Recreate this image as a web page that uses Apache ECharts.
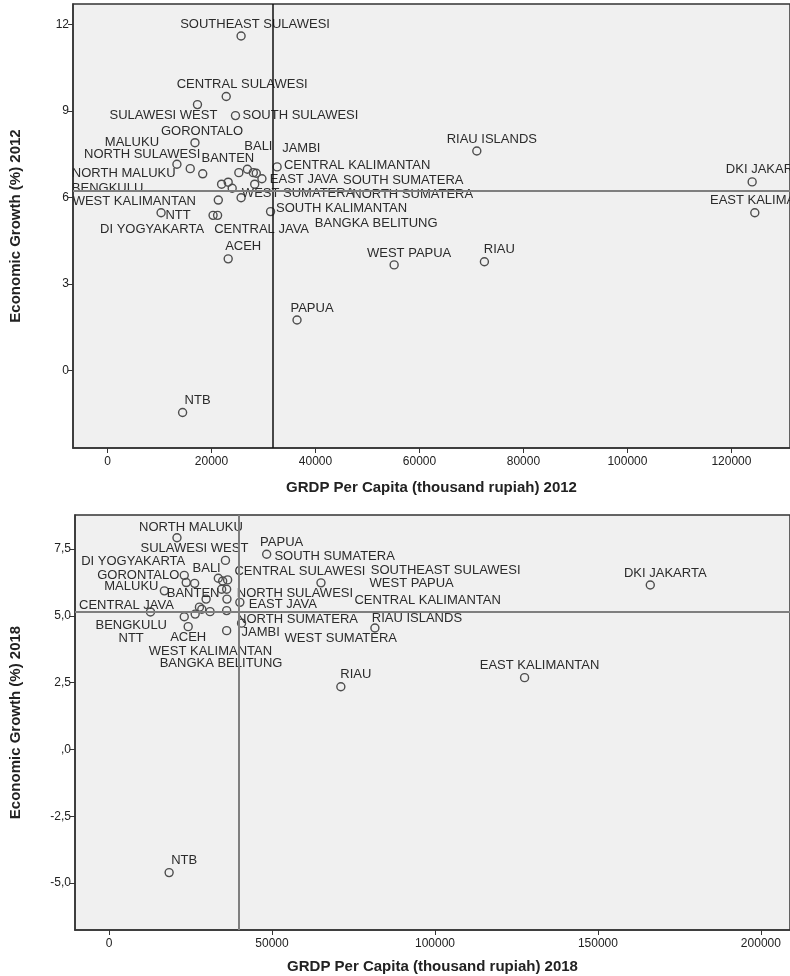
<!DOCTYPE html>
<html>
<head>
<meta charset="utf-8">
<script src="https://cdn.jsdelivr.net/npm/echarts@6/dist/echarts.min.js"></script>
<style>
  html, body { margin: 0; padding: 0; background: #fff; }
  #main { width: 790px; height: 976px; }
</style>
</head>
<body>
<div id="main"></div>
<script>
  // 2012
  var names2012 = ['SOUTHEAST SULAWESI', 'CENTRAL SULAWESI', 'SULAWESI WEST', 'SOUTH SULAWESI', 'GORONTALO',
    'MALUKU', 'NORTH SULAWESI', 'NORTH MALUKU', 'BANTEN', 'BALI', 'JAMBI', 'SOUTH SUMATERA', 'EAST JAVA',
    'CENTRAL KALIMANTAN', 'NORTH SUMATERA', 'BENGKULU', 'WEST JAVA', 'BANGKA BELITUNG', 'WEST SUMATERA',
    'WEST KALIMANTAN', 'NTT', 'DI YOGYAKARTA', 'CENTRAL JAVA', 'SOUTH KALIMANTAN', 'ACEH', 'RIAU ISLANDS',
    'DKI JAKARTA', 'EAST KALIMANTAN', 'WEST PAPUA', 'RIAU', 'PAPUA', 'NTB'];
  var grdp2012 = [25690, 22830, 17300, 24610, 16820, 13350, 15910, 18310, 25260, 26900, 28040, 28610, 29700,
    32620, 28310, 21940, 23210, 23980, 25690, 21310, 10300, 20300, 21170, 31360, 23210, 71030,
    123990, 124500, 55130, 72490, 36450, 14440];
  var growth2012 = [11.60, 9.50, 9.22, 8.84, 7.90, 7.15, 7.00, 6.82, 6.86, 6.98, 6.86, 6.84, 6.65,
    7.06, 6.46, 6.46, 6.53, 6.32, 5.99, 5.91, 5.47, 5.38, 5.38, 5.51, 3.87, 7.61,
    6.54, 5.47, 3.66, 3.77, 1.75, -1.46];
  var mean2012 = [31810, 6.23];

  // 2018
  var names2018 = ['NORTH MALUKU', 'SULAWESI WEST', 'PAPUA', 'GORONTALO', 'DI YOGYAKARTA', 'BALI', 'WEST JAVA',
    'SOUTHEAST SULAWESI', 'SOUTH SUMATERA', 'LAMPUNG', 'WEST PAPUA', 'MALUKU', 'BANTEN', 'NORTH SULAWESI',
    'WEST KALIMANTAN', 'WEST SUMATERA', 'BANGKA BELITUNG', 'CENTRAL KALIMANTAN', 'CENTRAL JAVA', 'BENGKULU',
    'NTT', 'ACEH', 'EAST JAVA', 'NORTH SUMATERA', 'JAMBI', 'RIAU ISLANDS', 'CENTRAL SULAWESI', 'RIAU',
    'EAST KALIMANTAN', 'DKI JAKARTA', 'NTB'];
  var grdp2018 = [20840, 35710, 48360, 23070, 23680, 26260, 33520, 34860, 36380, 34550, 36080, 16970, 29770, 36170,
    27730, 28460, 30990, 36080, 12710, 23070, 26420, 24280, 40130, 40650, 36080, 81570, 65020, 71120,
    127490, 166060, 18430];
  var growth2018 = [7.93, 7.08, 7.31, 6.52, 6.25, 6.22, 6.41, 6.31, 6.35, 6.00, 6.00, 5.94, 5.63, 5.63,
    5.33, 5.25, 5.16, 5.20, 5.15, 4.97, 5.07, 4.60, 5.51, 4.73, 4.45, 4.55, 6.24, 2.35,
    2.69, 6.16, -4.61];
  var mean2018 = [39760, 5.15];

  var hiddenLabels = ['WEST JAVA', 'LAMPUNG'];

  // label centre relative to the point, px
  var labelOffset2012 = {
    'SOUTHEAST SULAWESI': [14, -12], 'CENTRAL SULAWESI': [16, -12], 'SULAWESI WEST': [-34, 11],
    'SOUTH SULAWESI': [65, 0], 'GORONTALO': [7, -11], 'MALUKU': [-45, -22], 'NORTH SULAWESI': [-48, -14],
    'NORTH MALUKU': [-79, 0], 'BANTEN': [-11, -14], 'BALI': [11, -23], 'JAMBI': [48, -24],
    'SOUTH SUMATERA': [147, 7], 'EAST JAVA': [42, 1], 'CENTRAL KALIMANTAN': [80, -1],
    'NORTH SUMATERA': [158, 10], 'BENGKULU': [-114, 4], 'BANGKA BELITUNG': [144, 35],
    'WEST SUMATERA': [57, -4], 'WEST KALIMANTAN': [-84, 1], 'NTT': [17, 3], 'DI YOGYAKARTA': [-61, 14],
    'CENTRAL JAVA': [44, 14], 'SOUTH KALIMANTAN': [71, -3]
  };
  var labelOffset2018 = {
    'NORTH MALUKU': [14, -10], 'SULAWESI WEST': [-31, -12], 'SOUTH SUMATERA': [107, -23],
    'DI YOGYAKARTA': [-53, -21], 'BALI': [12, -15], 'CENTRAL SULAWESI': [-21, -11],
    'SOUTHEAST SULAWESI': [223, -11], 'WEST PAPUA': [185, -6], 'GORONTALO': [-46, 0], 'MALUKU': [-33, -4],
    'BANTEN': [-13, -6], 'NORTH SULAWESI': [68, -6], 'CENTRAL KALIMANTAN': [201, -10], 'CENTRAL JAVA': [-24, -7],
    'EAST JAVA': [43, 2], 'NORTH SUMATERA': [56, -4], 'RIAU ISLANDS': [42, -10], 'BENGKULU': [-53, 9],
    'JAMBI': [34, 2], 'WEST SUMATERA': [139, 29], 'NTT': [-64, 24], 'ACEH': [0, 11],
    'WEST KALIMANTAN': [11, 44], 'BANGKA BELITUNG': [11, 52]
  };

  var fontName = '"Liberation Sans", Arial, sans-serif';

  function points(names, xs, ys, offsets) {
    return names.map(function(n, i) {
      var off = offsets[n] || [15, -12];
      return {
        name: n,
        value: [xs[i], ys[i]],
        label: { show: hiddenLabels.indexOf(n) < 0, offset: off }
      };
    });
  }

  function scatter(idx, data, mean, vColor, vWidth) {
    return {
      type: 'scatter',
      xAxisIndex: idx,
      yAxisIndex: idx,
      symbol: 'circle',
      symbolSize: 8,
      itemStyle: { color: 'rgba(0,0,0,0)', borderColor: '#4d4d4d', borderWidth: 1.4, opacity: 1 },
      label: {
        position: 'inside',
        formatter: '{b}',
        fontFamily: fontName,
        fontSize: 13,
        color: '#2b2b2b'
      },
      emphasis: { disabled: true },
      data: data,
      markLine: {
        silent: true,
        symbol: 'none',
        label: { show: false },
        animation: false,
        data: [
          { xAxis: mean[0], lineStyle: { color: vColor, width: vWidth, type: 'solid' } },
          { yAxis: mean[1], lineStyle: { color: '#7f7f7f', width: 2, type: 'solid' } }
        ]
      }
    };
  }

  var axisCommon = {
    type: 'value',
    splitLine: { show: false },
    axisLine: { show: true, onZero: false, lineStyle: { color: '#333', width: 1.5 } },
    axisTick: { show: true, length: 5, lineStyle: { color: '#333' } },
    axisLabel: { fontFamily: fontName, fontSize: 12, color: '#222', margin: 4 },
    nameLocation: 'middle',
    nameTextStyle: { fontFamily: fontName, fontSize: 15, fontWeight: 'bold', color: '#222' }
  };

  function axis(extra) {
    var a = JSON.parse(JSON.stringify(axisCommon));
    for (var k in extra) {
      if (k === 'axisLabel' || k === 'axisTick') {
        for (var j in extra[k]) a[k][j] = extra[k][j];
      } else {
        a[k] = extra[k];
      }
    }
    return a;
  }

  function plain(v) { return String(v); }

  var xTicks2012 = [0, 20000, 40000, 60000, 80000, 100000, 120000];
  var yTicks2012 = [0, 3, 6, 9, 12];
  var xTicks2018 = [0, 50000, 100000, 150000, 200000];
  var yTicks2018 = [-5, -2.5, 0, 2.5, 5, 7.5];

  var chart = echarts.init(document.getElementById('main'));
  chart.setOption({
    backgroundColor: '#fff',
    animation: false,
    grid: [
      { left: 69, top: 4, width: 723, height: 444, show: true, backgroundColor: '#f0f0f0', borderColor: '#333', borderWidth: 1.5 },
      { left: 74, top: 515, width: 720, height: 415, show: true, backgroundColor: '#f0f0f0', borderColor: '#333', borderWidth: 1.5 }
    ],
    xAxis: [
      axis({ gridIndex: 0, min: -6640, max: 131270, name: 'GRDP Per Capita (thousand rupiah) 2012', nameGap: 32,
        axisLabel: { customValues: xTicks2012, margin: 8, formatter: plain }, axisTick: { customValues: xTicks2012 } }),
      axis({ gridIndex: 1, min: -10450, max: 208930, name: 'GRDP Per Capita (thousand rupiah) 2018', nameGap: 29,
        axisLabel: { customValues: xTicks2018, margin: 8, formatter: plain }, axisTick: { customValues: xTicks2018 } })
    ],
    yAxis: [
      axis({ gridIndex: 0, min: -2.69, max: 12.71, name: 'Economic Growth (%) 2012', nameGap: 50,
        axisLabel: { customValues: yTicks2012, formatter: plain }, axisTick: { customValues: yTicks2012 } }),
      axis({ gridIndex: 1, min: -6.76, max: 8.78, name: 'Economic Growth (%) 2018', nameGap: 52,
        axisLabel: {
          customValues: yTicks2018,
          formatter: function(v) { return v.toFixed(1).replace('.', ',').replace(/^(-?)0,/, '$1,'); }
        },
        axisTick: { customValues: yTicks2018 } })
    ],
    series: [
      scatter(0, points(names2012, grdp2012, growth2012, labelOffset2012), mean2012, '#111', 1.5),
      scatter(1, points(names2018, grdp2018, growth2018, labelOffset2018), mean2018, '#7f7f7f', 2)
    ]
  });
</script>
</body>
</html>
